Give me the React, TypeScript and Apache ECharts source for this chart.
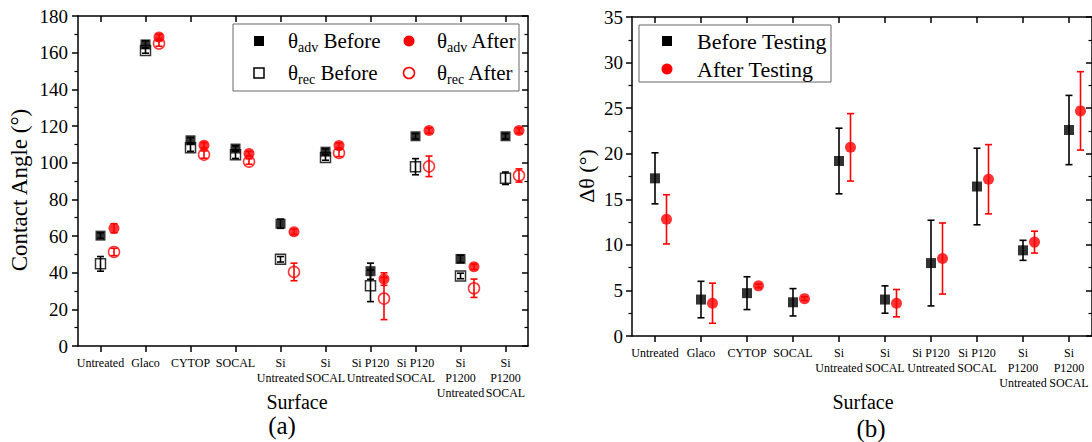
import React, { useEffect, useRef } from 'react';
import * as echarts from 'echarts';

const categories = [
  'Untreated', 'Glaco', 'CYTOP', 'SOCAL', 'Si\nUntreated', 'Si\nSOCAL',
  'Si P120\nUntreated', 'Si P120\nSOCAL', 'Si\nP1200\nUntreated', 'Si\nP1200\nSOCAL',
];

// Panel (a): contact angles (°)
const advBefore = [60.2, 164.5, 112.2, 107.7, 66.7, 106.0, 40.8, 114.4, 47.5, 114.4];
const advBeforeErr = [1.5, 2.0, 1.5, 1.5, 2.5, 1.5, 4.4, 1.5, 2.0, 1.5];
const advAfter = [64.2, 168.5, 109.5, 105.0, 62.3, 109.3, 36.5, 117.5, 43.2, 117.5];
const advAfterErr = [2.5, 1.5, 1.5, 1.2, 1.5, 1.5, 3.4, 1.5, 1.5, 1.5];
const recBefore = [44.8, 161.2, 108.2, 104.3, 47.3, 102.8, 32.8, 97.8, 38.2, 91.5];
const recBeforeErr = [4.0, 1.5, 2.0, 2.0, 1.5, 1.5, 8.6, 4.4, 1.5, 3.4];
const recAfter = [51.3, 165.0, 104.4, 100.6, 40.4, 105.3, 25.9, 98.0, 31.5, 93.0];
const recAfterErr = [2.0, 1.5, 2.0, 1.5, 4.8, 2.0, 11.5, 5.6, 5.0, 3.6];

// Panel (b): contact angle hysteresis Δθ (°)
const hystBefore = [17.3, 4.0, 4.7, 3.7, 19.2, 4.0, 8.0, 16.4, 9.4, 22.6];
const hystBeforeErr = [2.8, 2.0, 1.8, 1.5, 3.6, 1.5, 4.7, 4.2, 1.1, 3.8];
const hystAfter = [12.8, 3.6, 5.5, 4.1, 20.7, 3.6, 8.5, 17.2, 10.3, 24.7];
const hystAfterErr = [2.7, 2.2, 0.2, 0.2, 3.7, 1.5, 3.9, 3.8, 1.2, 4.3];

const leftTicks = { min: 0, max: 180, interval: 20 };
const rightTicks = { min: 0, max: 35, interval: 5 };

const FONT = 'Liberation Serif';
const RED = '#ff0000';
const BLACK = '#000000';

function pts(vals: number[], off: number) {
  return vals.map((v, i) => [i + 1 + off, v]);
}
function errs(vals: number[], e: number[], off: number) {
  return vals.map((v, i) => [i + 1 + off, v - e[i], v + e[i]]);
}

function errRender(color: string) {
  return (params: any, api: any) => {
    const x = api.value(0);
    const lo = api.coord([x, api.value(1)]);
    const hi = api.coord([x, api.value(2)]);
    const w = 3.5;
    const style = { stroke: color, lineWidth: 1.6, fill: 'none' };
    return {
      type: 'group',
      children: [
        { type: 'line', shape: { x1: lo[0], y1: lo[1], x2: hi[0], y2: hi[1] }, style },
        { type: 'line', shape: { x1: lo[0] - w, y1: lo[1], x2: lo[0] + w, y2: lo[1] }, style },
        { type: 'line', shape: { x1: hi[0] - w, y1: hi[1], x2: hi[0] + w, y2: hi[1] }, style },
      ],
    };
  };
}

const axisLine = { show: true, lineStyle: { color: BLACK, width: 1.5 } };

function catAxis(grid: number, position: 'top' | 'bottom', labels: boolean, margin: number) {
  return {
    type: 'category',
    gridIndex: grid,
    position,
    data: categories,
    boundaryGap: true,
    axisLine,
    axisTick: { show: true, alignWithLabel: true, interval: 0, inside: position === 'top', length: 6, lineStyle: { color: BLACK, width: 1.5 } },
    axisLabel: labels
      ? { show: true, interval: 0, margin, color: BLACK, fontFamily: FONT, fontSize: 12, lineHeight: 15 }
      : { show: false },
    splitLine: { show: false },
  };
}

function valXAxis(grid: number) {
  return { type: 'value', gridIndex: grid, min: 0.5, max: 10.5, show: false };
}

function yAxisDef(grid: number, position: 'left' | 'right', t: any, margin: number) {
  const inside = position === 'right';
  return {
    type: 'value',
    gridIndex: grid,
    position,
    min: t.min,
    max: t.max,
    interval: t.interval,
    axisLine,
    axisTick: { show: true, inside, length: 6, lineStyle: { color: BLACK, width: 1.5 } },
    minorTick: { show: true, splitNumber: 2, length: 3.5, lineStyle: { color: BLACK, width: 1.2 } },
    axisLabel: position === 'left'
      ? { show: true, margin, color: BLACK, fontFamily: FONT, fontSize: 19 }
      : { show: false },
    splitLine: { show: false },
    minorSplitLine: { show: false },
  };
}

function scatter(name: string, data: any[], xi: number, yi: number, symbol: string, size: number, color: string, filled: boolean) {
  return {
    type: 'scatter',
    name,
    xAxisIndex: xi,
    yAxisIndex: yi,
    data,
    symbol,
    symbolSize: size,
    z: 5,
    itemStyle: filled
      ? { color, borderColor: color, borderWidth: 0 }
      : { color: 'rgba(255,255,255,0)', borderColor: color, borderWidth: 1.5 },
  };
}

function errSeries(data: any[], xi: number, yi: number, color: string) {
  return {
    type: 'custom',
    xAxisIndex: xi,
    yAxisIndex: yi,
    data,
    encode: { x: 0, y: [1, 2] },
    renderItem: errRender(color),
    z: 3,
  };
}

const OFF_A = 0.3;
const OFF_B = 0.25;

const richMain = (size: number) => ({
  t: { fontFamily: FONT, fontSize: size, color: BLACK, lineHeight: 26, verticalAlign: 'middle' },
  s: { fontFamily: FONT, fontSize: 14, color: BLACK, lineHeight: 10, verticalAlign: 'bottom' },
});

function legendText(x: number, y: number, text: string, size = 21) {
  return {
    type: 'text',
    x,
    y,
    z: 11,
    style: { text, rich: richMain(size), align: 'left', verticalAlign: 'middle', fill: BLACK },
  };
}

function plainText(x: number, y: number, text: string, size: number, rotation = 0, align = 'center') {
  return {
    type: 'text',
    x,
    y,
    rotation,
    z: 11,
    style: { text, fontFamily: FONT, fontSize: size, fill: BLACK, align, verticalAlign: 'middle' },
  };
}

export default function App() {
  const ref = useRef<HTMLDivElement>(null);
  useEffect(() => {
    if (!ref.current) return;
    const chart = echarts.init(ref.current, undefined, { renderer: 'svg' });
    const option: any = {
      animation: false,
      backgroundColor: '#ffffff',
      textStyle: { fontFamily: FONT },
      grid: [
        { left: 78, top: 16, width: 450, height: 330 },
        { left: 632, top: 17, width: 461, height: 319 },
      ],
      xAxis: [
        catAxis(0, 'bottom', true, 9),
        valXAxis(0),
        catAxis(0, 'top', false, 0),
        catAxis(1, 'bottom', true, 9),
        valXAxis(1),
        catAxis(1, 'top', false, 0),
      ],
      yAxis: [
        yAxisDef(0, 'left', leftTicks, 10),
        yAxisDef(0, 'right', leftTicks, 0),
        yAxisDef(1, 'left', rightTicks, 9),
        yAxisDef(1, 'right', rightTicks, 0),
      ],
      series: [
        errSeries(errs(advBefore, advBeforeErr, 0), 1, 0, BLACK),
        errSeries(errs(recBefore, recBeforeErr, 0), 1, 0, BLACK),
        errSeries(errs(advAfter, advAfterErr, OFF_A), 1, 0, RED),
        errSeries(errs(recAfter, recAfterErr, OFF_A), 1, 0, RED),
        scatter('θrec Before', pts(recBefore, 0), 1, 0, 'rect', 10, BLACK, false),
        scatter('θrec After', pts(recAfter, OFF_A), 1, 0, 'circle', 11, RED, false),
        scatter('θadv Before', pts(advBefore, 0), 1, 0, 'rect', 10, BLACK, true),
        scatter('θadv After', pts(advAfter, OFF_A), 1, 0, 'circle', 11, RED, true),

        errSeries(errs(hystBefore, hystBeforeErr, 0), 4, 2, BLACK),
        errSeries(errs(hystAfter, hystAfterErr, OFF_B), 4, 2, RED),
        scatter('Before Testing', pts(hystBefore, 0), 4, 2, 'rect', 10, BLACK, true),
        scatter('After Testing', pts(hystAfter, OFF_B), 4, 2, 'circle', 11, RED, true),
      ],
      graphic: [
        // legend (a)
        { type: 'rect', shape: { x: 233, y: 24, width: 286, height: 67 }, style: { fill: '#ffffff', stroke: '#666666', lineWidth: 1 }, z: 10 },
        { type: 'rect', shape: { x: 254, y: 36, width: 10, height: 10 }, style: { fill: BLACK }, z: 11 },
        { type: 'rect', shape: { x: 254, y: 68, width: 10, height: 10 }, style: { fill: '#ffffff', stroke: BLACK, lineWidth: 1.5 }, z: 11 },
        { type: 'circle', shape: { cx: 409, cy: 41, r: 5.5 }, style: { fill: RED }, z: 11 },
        { type: 'circle', shape: { cx: 409, cy: 73, r: 5.5 }, style: { fill: '#ffffff', stroke: RED, lineWidth: 1.5 }, z: 11 },
        legendText(288, 41, '{t|θ}{s|adv}{t| Before}'),
        legendText(288, 73, '{t|θ}{s|rec}{t| Before}'),
        legendText(437, 41, '{t|θ}{s|adv}{t| After}'),
        legendText(437, 73, '{t|θ}{s|rec}{t| After}'),
        // legend (b)
        { type: 'rect', shape: { x: 639, y: 25, width: 192, height: 57 }, style: { fill: '#ffffff', stroke: '#666666', lineWidth: 1 }, z: 10 },
        { type: 'rect', shape: { x: 662, y: 36, width: 10, height: 10 }, style: { fill: BLACK }, z: 11 },
        { type: 'circle', shape: { cx: 667, cy: 69, r: 5.5 }, style: { fill: RED }, z: 11 },
        plainText(697, 41, 'Before Testing', 22, 0, 'left'),
        plainText(697, 69, 'After Testing', 22, 0, 'left'),
        // axis names & panel labels
        plainText(19, 190, 'Contact Angle (°)', 23, Math.PI / 2),
        plainText(297, 402, 'Surface', 20),
        plainText(282, 425, '(a)', 25),
        plainText(586, 176, 'Δθ (°)', 22, Math.PI / 2),
        plainText(863, 402, 'Surface', 20),
        plainText(871, 428, '(b)', 25),
      ],
    };
    chart.setOption(option);
    return () => chart.dispose();
  }, []);
  return (
    <div
      ref={ref}
      style={{ position: 'fixed', left: 0, top: 0, width: 1092, height: 442, background: '#fff' }}
    />
  );
}
